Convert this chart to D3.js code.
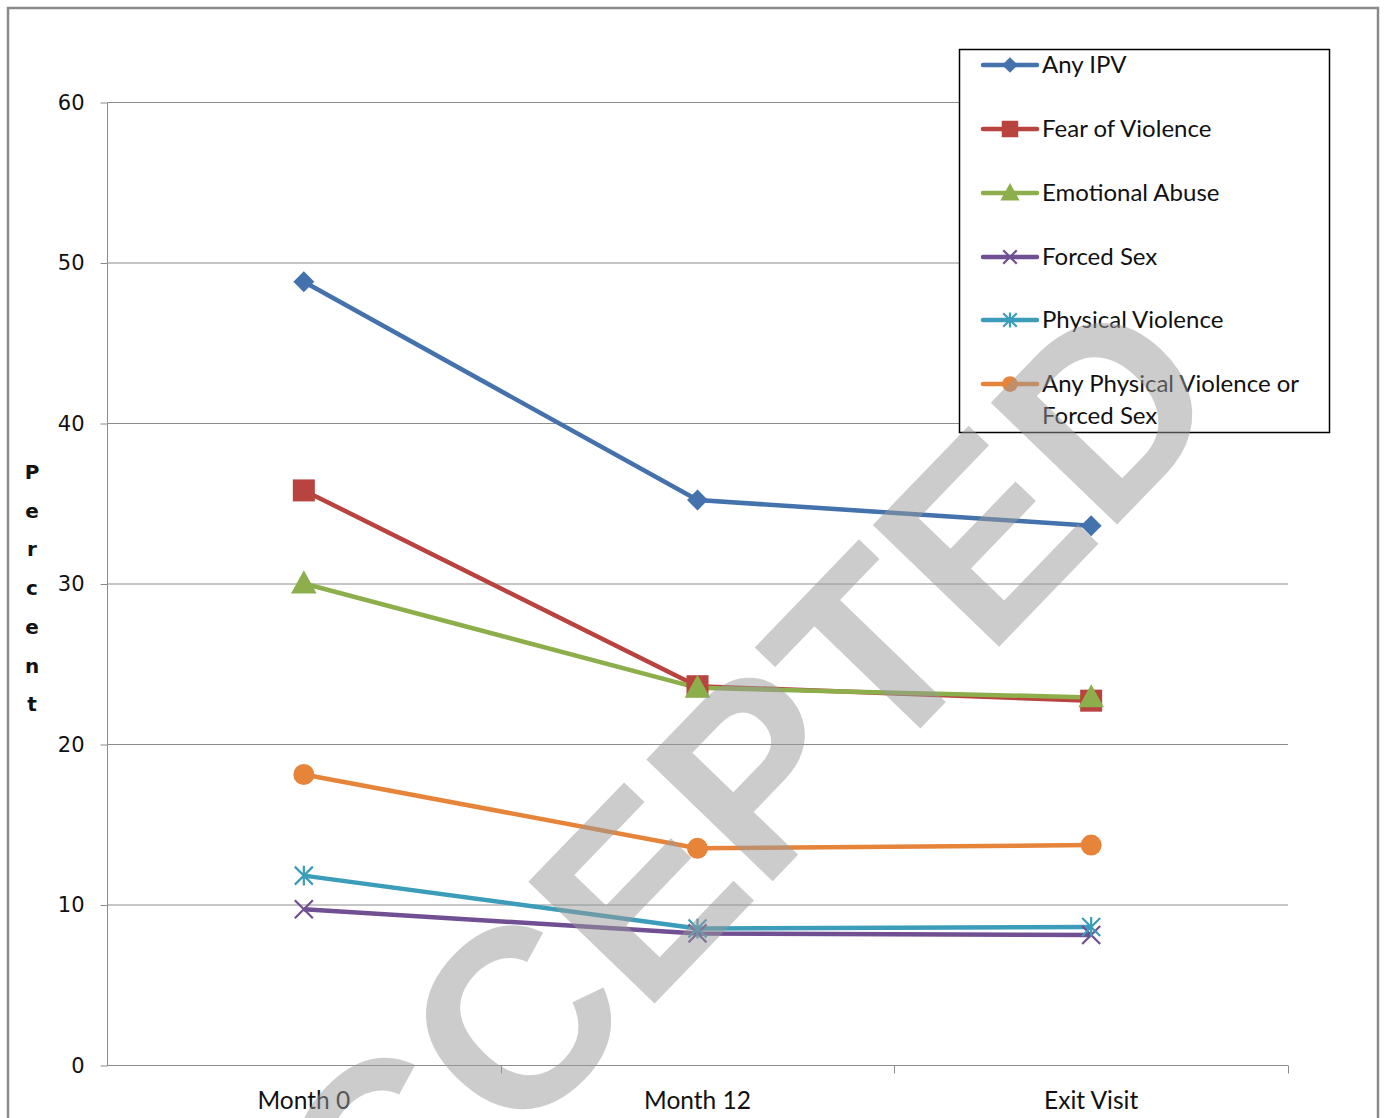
<!DOCTYPE html>
<html>
<head>
<meta charset="utf-8">
<script src="https://cdn.jsdelivr.net/npm/d3@7"></script>
<style>
  html, body { margin: 0; padding: 0; background: #fff; }
  svg { display: block; }
</style>
</head>
<body>
<svg id="chart" width="1385" height="1118"></svg>
<script>
// Visit categories along the x axis
const visits = ["Month 0", "Month 12", "Exit Visit"];

// Prevalence (percent) of each outcome at each visit
const anyIPV          = [48.8, 35.2, 33.6];
const fearOfViolence  = [35.8, 23.6, 22.7];
const emotionalAbuse  = [30.0, 23.5, 22.9];
const forcedSex       = [9.7, 8.2, 8.1];
const physicalViol    = [11.8, 8.5, 8.6];
const anyPhysOrForced = [18.1, 13.5, 13.7];

const seriesNames = ["Any IPV", "Fear of Violence", "Emotional Abuse", "Forced Sex",
                     "Physical Violence", "Any Physical Violence or Forced Sex"];
const yTicks = [0, 10, 20, 30, 40, 50, 60];

const seriesValues = [anyIPV, fearOfViolence, emotionalAbuse, forcedSex, physicalViol, anyPhysOrForced];
const colors  = ["#4372AD", "#B8433F", "#8CAF4B", "#704F92", "#3B9DB9", "#E6843A"];
const markers = ["diamond", "square", "triangle", "x", "asterisk", "circle"];

const svg = d3.select("#chart");

// Outer frame
svg.append("path")
  .attr("d", "M8,1118 V8 H1378 V1118")
  .attr("fill", "none").attr("stroke", "#8a8a8a").attr("stroke-width", 2.5);

const plot = { left: 107, right: 1288, top: 102, bottom: 1065 };

const x = d3.scaleBand().domain(visits).range([plot.left, plot.right]);
const y = d3.scaleLinear().domain([0, 60]).range([plot.bottom, plot.top]);

// Horizontal gridlines
svg.append("g").selectAll("line").data(yTicks.filter(t => t > 0)).join("line")
  .attr("x1", plot.left).attr("x2", plot.right)
  .attr("y1", d => y(d) + 0.5).attr("y2", d => y(d) + 0.5)
  .attr("stroke", "#8c8c8c").attr("stroke-width", 1);

// Y axis
const yAxis = svg.append("g").attr("transform", `translate(${plot.left + 0.5},0.5)`)
  .call(d3.axisLeft(y).tickValues(yTicks).tickSize(7).tickPadding(16));
yAxis.select(".domain").attr("stroke", "#8c8c8c").attr("d", `M0,${plot.top}V${plot.bottom}`);
yAxis.selectAll(".tick line").attr("stroke", "#8c8c8c");
yAxis.selectAll(".tick text")
  .attr("font-family", "DejaVu Sans, Verdana, sans-serif").attr("font-size", 21)
  .attr("fill", "#111");

// X axis with ticks between categories
const xAxisG = svg.append("g").attr("transform", `translate(0,${plot.bottom + 0.5})`);
xAxisG.append("line").attr("x1", plot.left).attr("x2", plot.right)
  .attr("stroke", "#8c8c8c");
xAxisG.selectAll("line.tk").data(visits.map(v => x(v) + x.bandwidth())).join("line")
  .attr("class", "tk")
  .attr("x1", d => Math.round(d) + 0.5).attr("x2", d => Math.round(d) + 0.5)
  .attr("y1", 0).attr("y2", 8).attr("stroke", "#8c8c8c");
xAxisG.selectAll("text").data(visits).join("text")
  .attr("x", d => x(d) + x.bandwidth() / 2).attr("y", 43)
  .attr("text-anchor", "middle")
  .attr("font-family", "Lato, Calibri, sans-serif").attr("font-size", 24.5)
  .attr("fill", "#111").text(d => d);

// Vertical "Percent" title, one letter per row
svg.append("g").selectAll("text").data("Percent".split("")).join("text")
  .attr("x", 32).attr("y", (d, i) => 479 + i * 38.7)
  .attr("text-anchor", "middle")
  .attr("font-family", "DejaVu Sans, Verdana, sans-serif").attr("font-weight", "bold")
  .attr("font-size", 20).attr("fill", "#111").text(d => d);

// Marker drawing
function drawMarker(g, type, color, size) {
  const s = size;
  if (type === "diamond") {
    g.append("path").attr("d", `M0,${-s * 0.55}L${s * 0.55},0L0,${s * 0.55}L${-s * 0.55},0Z`).attr("fill", color);
  } else if (type === "square") {
    g.append("rect").attr("x", -s / 2).attr("y", -s / 2).attr("width", s).attr("height", s).attr("fill", color);
  } else if (type === "triangle") {
    g.append("path").attr("d", `M0,${-s * 0.6}L${s * 0.58},${s * 0.45}L${-s * 0.58},${s * 0.45}Z`).attr("fill", color);
  } else if (type === "circle") {
    g.append("circle").attr("r", s / 2).attr("fill", color);
  } else if (type === "x") {
    const h = s * 0.5;
    g.append("path").attr("d", `M${-h},${-h}L${h},${h}M${-h},${h}L${h},${-h}`)
      .attr("stroke", color).attr("stroke-width", 2.2).attr("fill", "none");
  } else if (type === "asterisk") {
    const h = s * 0.5;
    g.append("path").attr("d", `M${-h},${-h}L${h},${h}M${-h},${h}L${h},${-h}M0,${-h * 1.1}L0,${h * 1.1}`)
      .attr("stroke", color).attr("stroke-width", 2.2).attr("fill", "none");
  }
}
const markerSize = [19, 22, 22, 18, 18, 21];

// Series lines and markers
const line = d3.line().x((d, i) => x(visits[i]) + x.bandwidth() / 2).y(d => y(d));
const seriesG = svg.append("g");
seriesValues.forEach((vals, si) => {
  seriesG.append("path").datum(vals).attr("d", line)
    .attr("fill", "none").attr("stroke", colors[si]).attr("stroke-width", 4.5)
    .attr("stroke-linejoin", "round");
});
seriesValues.forEach((vals, si) => {
  vals.forEach((v, i) => {
    const g = seriesG.append("g")
      .attr("transform", `translate(${x(visits[i]) + x.bandwidth() / 2},${y(v)})`);
    drawMarker(g, markers[si], colors[si], markerSize[si]);
  });
});

// Legend
const legend = svg.append("g");
legend.append("rect").attr("x", 959.5).attr("y", 49.5).attr("width", 370).attr("height", 383)
  .attr("fill", "#fff").attr("stroke", "#000").attr("stroke-width", 1.5);
const legendY = [65, 129, 193, 257, 320, 384];
seriesNames.forEach((name, si) => {
  const ly = legendY[si];
  legend.append("line").attr("x1", 983).attr("x2", 1037).attr("y1", ly).attr("y2", ly)
    .attr("stroke", colors[si]).attr("stroke-width", 4.5).attr("stroke-linecap", "round");
  const g = legend.append("g").attr("transform", `translate(1010,${ly})`);
  drawMarker(g, markers[si], colors[si], markerSize[si] * 0.75);
  const words = name === "Any Physical Violence or Forced Sex"
    ? ["Any Physical Violence or", "Forced Sex"] : [name];
  words.forEach((w, k) => {
    legend.append("text").attr("x", 1042).attr("y", ly + 8 + k * 32)
      .attr("font-family", "Lato, Calibri, sans-serif").attr("font-size", 24)
      .attr("fill", "#111").text(w);
  });
});

// Diagonal stamp across the chart
svg.append("text")
  .attr("transform", "translate(680,845) rotate(-46)")
  .attr("text-anchor", "middle").attr("dy", "0.36em")
  .attr("font-family", "Liberation Sans, Arial, sans-serif").attr("font-weight", "bold")
  .attr("font-size", 255).attr("fill", "#999").attr("fill-opacity", 0.5)
  .text("ACCEPTED");
</script>
</body>
</html>
